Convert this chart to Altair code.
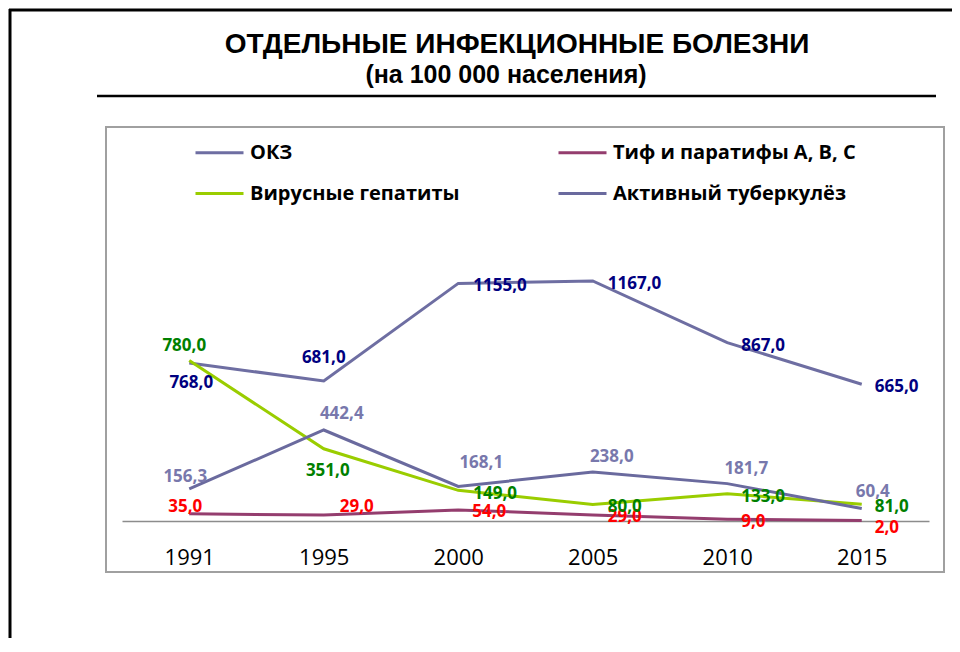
import altair as alt
import pandas as pd

years = ["1991", "1995", "2000", "2005", "2010", "2015"]
series_names = ["ОКЗ", "Тиф и паратифы А, В, С", "Вирусные гепатиты", "Активный туберкулёз"]
okz = [768.0, 681.0, 1155.0, 1167.0, 867.0, 665.0]
tif = [35.0, 29.0, 54.0, 29.0, 9.0, 2.0]
hep = [780.0, 351.0, 149.0, 80.0, 133.0, 81.0]
tub = [156.3, 442.4, 168.1, 238.0, 181.7, 60.4]

title_text = "ОТДЕЛЬНЫЕ ИНФЕКЦИОННЫЕ БОЛЕЗНИ"
subtitle_text = "(на 100 000 населения)"

values = [okz, tif, hep, tub]
rows = []
for name, vals in zip(series_names, values):
    for y, v in zip(years, vals):
        rows.append({"series": name, "year": y, "value": v,
                     "label": f"{v:.1f}".replace(".", ",")})
df = pd.DataFrame(rows)

# styling (kept apart from data)
line_colors = ["#6E6EA2", "#943D6E", "#9ACD00", "#6A6A9E"]
label_colors = ["#000080", "#FF0000", "#008000", "#7878AC"]
# legend fills column by column: this order gives rows (ОКЗ, Тиф) and (Вирусные, Активный)
legend_order = [0, 2, 1, 3]
# per-point label placement: (align, dx, dy)
placements = [
    [("center", 2, 20), ("center", 0, -23), ("left", 15, 3), ("left", 15, 3), ("left", 14, 3), ("left", 13, 3)],
    [("center", -4, -7), ("left", 16, -8), ("left", 14, 2), ("left", 15, 2), ("left", 14, 3), ("left", 13, 7)],
    [("center", -5, -15), ("center", 4, 22), ("left", 15, 4), ("left", 15, 2), ("left", 14, 3), ("left", 13, 3)],
    [("center", -4, -12), ("center", 18, -16), ("center", 23, -23), ("center", 19, -15), ("center", 19, -15), ("center", 11, -17)],
]

W, H = 807, 288
x_enc = alt.X("year:N", sort=years,
              scale=alt.Scale(type="point", padding=0.5),
              axis=alt.Axis(title=None, labelAngle=0, ticks=False, domainColor="#8C8C8C",
                            domainWidth=1.5, labelFont="Open Sans", labelFontSize=22,
                            labelColor="#000000", labelPadding=26, grid=False))
y_enc = alt.Y("value:Q", scale=alt.Scale(domain=[0, 1400], nice=False, zero=True), axis=None)

base = alt.Chart(df)

dom = [series_names[i] for i in legend_order]
rng = [line_colors[i] for i in legend_order]

lines = base.mark_line(strokeWidth=3).encode(
    x=x_enc,
    y=y_enc,
    color=alt.Color("series:N",
                    scale=alt.Scale(domain=dom, range=rng),
                    sort=dom,
                    legend=alt.Legend(title=None, orient="none", legendX=72, legendY=-106,
                                      columns=2, columnPadding=92, rowPadding=5,
                                      symbolType="stroke", symbolSize=2304, symbolStrokeWidth=3,
                                      labelFont="Open Sans", labelFontWeight="bold",
                                      labelFontSize=20, labelColor="#000000", labelOffset=5,
                                      labelLimit=400)),
    order=alt.Order("year:N"),
)

text_layers = []
for si, name in enumerate(series_names):
    for yi, yr in enumerate(years):
        align, dx, dy = placements[si][yi]
        t = base.mark_text(font="Open Sans", fontWeight="bold", fontSize=17,
                           color=label_colors[si], align=align, baseline="middle",
                           dx=dx, dy=dy).encode(
            x=alt.X("year:N", sort=years), y="value:Q", text="label:N"
        ).transform_filter(
            (alt.datum.series == name) & (alt.datum.year == yr)
        )
        text_layers.append(t)

deco_src = alt.Chart(pd.DataFrame({"k": [0]}))

inner_box = deco_src.mark_rect(fill=None, stroke="#A0A0A0", strokeWidth=2).encode(
    x=alt.value(-16), x2=alt.value(822), y=alt.value(-106), y2=alt.value(339))
outer_left = deco_src.mark_rule(color="#000000", strokeWidth=3).encode(
    x=alt.value(-112), y=alt.value(-224), y2=alt.value(H + 117))
outer_top = deco_src.mark_rule(color="#000000", strokeWidth=3).encode(
    x=alt.value(-113), x2=alt.value(W + 23), y=alt.value(-223))
title_mark = deco_src.mark_text(font="Liberation Sans", fontWeight="bold", fontSize=28,
                                color="#000000", align="center", baseline="middle").encode(
    x=alt.value(395), y=alt.value(-188), text=alt.value(title_text))
subtitle_mark = deco_src.mark_text(font="Liberation Sans", fontWeight="bold", fontSize=25,
                                   color="#000000", align="center", baseline="middle").encode(
    x=alt.value(384), y=alt.value(-158), text=alt.value(subtitle_text))
black_line = deco_src.mark_rule(color="#000000", strokeWidth=2.5).encode(
    x=alt.value(-25), x2=alt.value(814), y=alt.value(-137))

chart = alt.layer(
    inner_box, outer_left, outer_top, black_line, title_mark, subtitle_mark,
    lines, *text_layers
).properties(
    width=W, height=H,
    autosize=alt.AutoSizeParams(type="none"),
    padding={"left": 114, "top": 225, "right": 23, "bottom": 117},
).configure_view(stroke=None)

chart.save("out.html", embed_options={"renderer": "svg", "actions": False})
